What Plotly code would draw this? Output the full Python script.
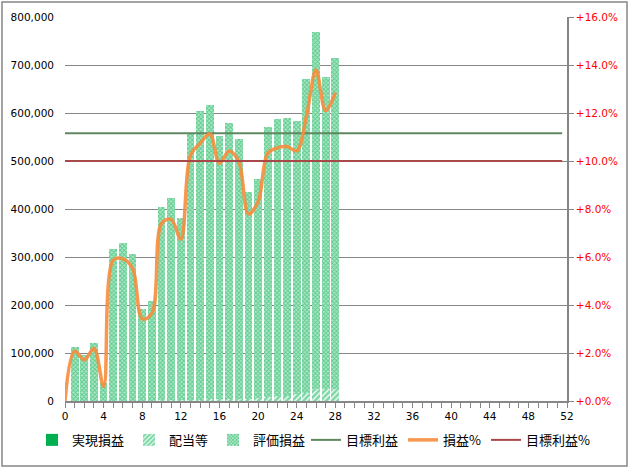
import plotly.graph_objects as go

weeks = list(range(1, 29))
total_pl = [112000, 96000, 120000, 37000, 316000, 328500, 305500, 191000, 208300, 403500,
            422000, 380500, 559000, 604000, 616000, 552000, 579000, 546000, 435000, 462500,
            571000, 587500, 589600, 583000, 670800, 768750, 675000, 714600]
dividends = [0, 0, 0, 0, 0, 0, 0, 0, 0, 2000,
             2000, 2500, 3000, 3000, 3500, 3500, 4000, 4000, 5000, 6000,
             9000, 10000, 10000, 14000, 17000, 25000, 26000, 24000]
realized = [0] * 28
unrealized = [t - d - r for t, d, r in zip(total_pl, dividends, realized)]

pct_weeks = list(range(0, 29))
pl_pct = [0.0, 2.08, 1.71, 2.19, 0.60, 5.87, 5.92, 5.53, 3.42, 3.65, 7.40,
          7.57, 6.74, 10.25, 10.74, 11.13, 9.90, 10.42, 9.97, 7.79, 8.30,
          10.32, 10.55, 10.60, 10.42, 11.85, 13.79, 12.10, 12.85]

target_weeks = [0, 51.5]
target_profit = [558000, 558000]
target_pct = [10.0, 10.0]

GREEN = "#00B050"
fig = go.Figure()
fig.add_bar(x=weeks, y=realized, name="実現損益", marker=dict(color=GREEN, line_width=0), width=0.8,
            legend="legend")
fig.add_bar(x=weeks, y=dividends, name="配当等", width=0.8, legend="legend",
            marker=dict(color="white", line_width=0,
                        pattern=dict(shape="/", fgcolor=GREEN, bgcolor="white", size=4, solidity=0.7)))
fig.add_bar(x=weeks, y=unrealized, name="評価損益", width=0.8, legend="legend",
            marker=dict(color="white", line_width=0,
                        pattern=dict(shape="x", fgcolor=GREEN, bgcolor="#B0E6C6", size=3, solidity=0.5)))
fig.add_scatter(x=target_weeks, y=target_profit, name="目標利益", mode="lines", legend="legend2",
                line=dict(color="#5F8760", width=2))
fig.add_scatter(x=pct_weeks, y=[v / 100 for v in pl_pct], name="損益%", mode="lines", yaxis="y2",
                legend="legend2",
                line=dict(color="rgba(247,140,60,0.9)", width=3.5, shape="spline", smoothing=1.0))
fig.add_scatter(x=target_weeks, y=[v / 100 for v in target_pct], name="目標利益%", mode="lines", yaxis="y2",
                legend="legend2", line=dict(color="#A84848", width=2))

axis_font = dict(family="DejaVu Sans", size=10.5, color="black")
legend_common = dict(orientation="h", xref="container", xanchor="left",
                     yref="container", y=0.062, yanchor="middle", traceorder="normal",
                     font=dict(family="Noto Sans CJK JP", size=13), itemwidth=30,
                     bgcolor="rgba(0,0,0,0)")
fig.update_layout(
    width=629, height=469,
    margin=dict(l=65, r=62, t=17, b=68, autoexpand=False),
    paper_bgcolor="white", plot_bgcolor="white",
    barmode="stack", bargap=0.2,
    font=dict(family="Noto Sans CJK JP", size=13, color="black"),
    xaxis=dict(range=[0, 52], tickmode="linear", tick0=0, dtick=4, ticks="outside", ticklen=5,
               tickcolor="#868686", showline=True, linecolor="#868686", linewidth=1.5,
               showgrid=False, zeroline=False, tickfont=axis_font, automargin=False,
               minor=dict(ticks="outside", dtick=1, ticklen=5, tickcolor="#868686")),
    yaxis=dict(range=[0, 800000], dtick=100000, tickformat=",", showgrid=True, gridcolor="#868686",
               gridwidth=1, zeroline=False, showline=False, tickfont=axis_font, ticks="",
               automargin=False, ticklabelstandoff=10),
    yaxis2=dict(range=[0, 0.16], dtick=0.02, tickformat="+.1%", overlaying="y", side="right",
                showgrid=False, zeroline=False, showline=True, linecolor="#868686", linewidth=1.5,
                ticks="outside", ticklen=5, tickcolor="#868686", automargin=False,
                tickfont=dict(family="DejaVu Sans", size=10.5, color="#FF0000")),
    legend=dict(legend_common, x=32 / 629),
    legend2=dict(legend_common, x=306 / 629),
    shapes=[dict(type="rect", xref="paper", yref="paper",
                 x0=(2 - 65) / 502, x1=(627 - 65) / 502, y0=(401 - 466) / 384, y1=(401 - 2) / 384,
                 line=dict(color="#868686", width=1.5), fillcolor="rgba(0,0,0,0)", layer="below")],
)

fig.write_html("out.html", config={"displayModeBar": False},
               post_script="document.body.style.margin='0';document.body.style.overflow='hidden';")
